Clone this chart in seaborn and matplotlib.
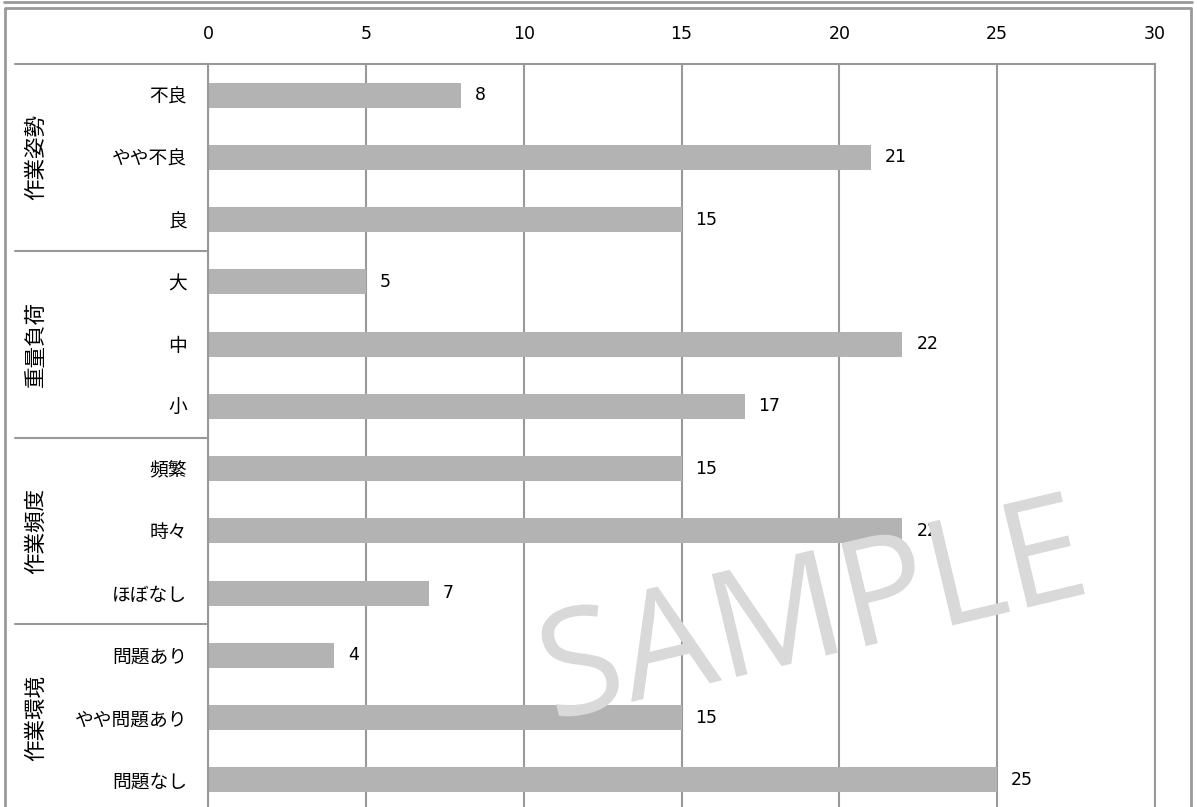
import numpy as np
import pandas as pd
import seaborn as sns
import matplotlib.pyplot as plt
from matplotlib.textpath import TextPath
from matplotlib.patches import PathPatch
from matplotlib.font_manager import FontProperties
from matplotlib.transforms import Affine2D

# data
groups = ['作業姿勢', '重量負荷', '作業頻度', '作業環境']
categories = ['不良', 'やや不良', '良',
              '大', '中', '小',
              '頻繁', '時々', 'ほぼなし',
              '問題あり', 'やや問題あり', '問題なし']
values = [8, 21, 15, 5, 22, 17, 15, 22, 7, 4, 15, 25]
x_ticks = [0, 5, 10, 15, 20, 25, 30]

df = pd.DataFrame({'category': categories, 'value': values})

sns.set_style("white")
plt.rcParams['font.family'] = ['DejaVu Sans', 'Noto Sans CJK JP']
plt.rcParams['text.color'] = 'black'
plt.rcParams['xtick.color'] = 'black'
plt.rcParams['ytick.color'] = 'black'

W, H = 1197, 807
fig = plt.figure(figsize=(W / 100, H / 100), dpi=100)
ax = fig.add_axes([208 / W, 1 - 811 / H, 947 / W, 747 / H])

frame_col = '#9a9a9a'
grid_col = '#999999'

sns.barplot(data=df, y='category', x='value', orient='h', color='#b3b3b3',
            width=0.4, saturation=1, linewidth=0, ax=ax, zorder=2)
ax.bar_label(ax.containers[0], padding=10, fontsize=12.5, color='black')

ax.set_xlim(0, 30)
ax.set_ylim(len(categories) - 0.5, -0.5)
ax.set_xticks(x_ticks)
ax.xaxis.tick_top()
ax.tick_params(axis='x', length=0, pad=15, labelsize=12.5)
ax.tick_params(axis='y', length=0, pad=15, labelsize=13.5)
ax.set_xlabel('')
ax.set_ylabel('')
ax.grid(axis='x', color=grid_col, linewidth=1.5, zorder=0)
ax.set_axisbelow(True)
for s in ['top', 'left', 'right']:
    ax.spines[s].set_visible(True)
    ax.spines[s].set_color(grid_col)
    ax.spines[s].set_linewidth(1.5)
ax.spines['bottom'].set_visible(False)

# group separators and labels on the left
trans = ax.get_yaxis_transform()
x0 = (15 - 208) / 947
n = 3
for k in range(len(groups) + 1):
    yb = k * n - 0.5
    ax.plot([x0, 0], [yb, yb], transform=trans, color=grid_col, lw=1.5,
            clip_on=False)
for k, g in enumerate(groups):
    ax.text((36 - 208) / 947, k * n + 1, g, transform=trans, rotation=90,
            ha='center', va='center', fontsize=15.5)

# outer frame
fig.add_artist(plt.Line2D([4 / W, 1192 / W], [1 - 1.5 / H, 1 - 1.5 / H],
                          color=frame_col, lw=2, transform=fig.transFigure))
fig.add_artist(plt.Line2D([5 / W, 5 / W, 1191 / W, 1191 / W],
                          [-0.01, 1 - 7.5 / H, 1 - 7.5 / H, -0.01],
                          color=frame_col, lw=2, transform=fig.transFigure))

# watermark
tp = TextPath((0, 0), 'SAMPLE', size=148, prop=FontProperties(family='Open Sans'))
bb = tp.get_extents()
wm_tr = (Affine2D()
         .translate(-(bb.x0 + bb.x1) / 2, -(bb.y0 + bb.y1) / 2)
         .rotate_deg(13.4)
         .translate(810, H - 605))
fig.add_artist(PathPatch(tp, transform=wm_tr, facecolor='#d9d9d9',
                         edgecolor='none', zorder=10))

fig.savefig('out.png', dpi=100)
